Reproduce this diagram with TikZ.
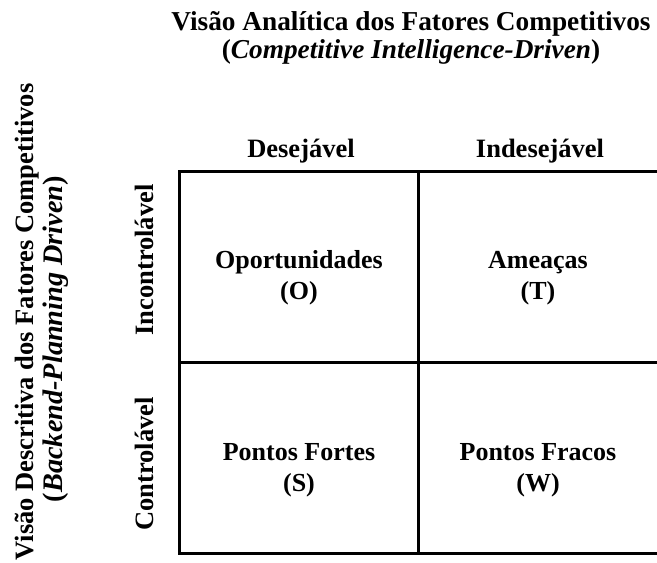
\documentclass[tikz,border=0pt]{standalone}
\usepackage{fontspec}
\setmainfont{Liberation Serif}
\begin{document}
\begin{tikzpicture}[x=1pt,y=-1pt,
  lbl/.style={inner sep=0pt,anchor=base,font=\fontsize{26.5}{30}\selectfont\bfseries},
  ttl/.style={inner sep=0pt,anchor=base,font=\fontsize{27.3}{30}\selectfont\bfseries},
  cell/.style={inner sep=0pt,align=center,font=\fontsize{26}{30.5}\selectfont\bfseries},
  gridline/.style={line width=3pt,line cap=rect}]
\useasboundingbox (0,0) rectangle (657,563);
% titles
\node[ttl] (t1) at (411,30) {Visão Analítica dos Fatores Competitivos};
\node[ttl] (t2) at (411,58) {(\textit{Competitive Intelligence-Driven})};
\node[lbl,rotate=90] (s1) at (33,322) {Visão Descritiva dos Fatores Competitivos};
\node[lbl,rotate=90,font=\fontsize{28.3}{30}\selectfont\bfseries] (s2) at (62,339) {(\textit{Backend-Planning Driven})};
% column / row headers
\node[lbl] (cdes) at (301,157) {Desejável};
\node[lbl] (cind) at (540,157) {Indesejável};
\node[lbl,rotate=90] (rinc) at (153,260) {Incontrolável};
\node[lbl,rotate=90] (rcon) at (153,464) {Controlável};
% grid
\coordinate (tl) at (179.5,171.5);
\coordinate (tm) at (418.5,171.5);
\coordinate (tr) at (665,171.5);
\coordinate (ml) at (179.5,362);
\coordinate (mr) at (665,362);
\coordinate (bl) at (179.5,553);
\coordinate (bm) at (418.5,553);
\coordinate (br) at (665,553);
\draw[gridline] (tr) -- (tl) -- (bl) -- (br);
\draw[gridline] (ml) -- (mr);
\draw[gridline] (tm) -- (bm);
% cells (base anchor = baseline of last line)
\node[cell,anchor=base] (o) at (299,299) {Oportunidades\\(O)};
\node[cell,anchor=base] (t) at (538,299) {Ameaças\\(T)};
\node[cell,anchor=base] (s) at (299,491) {Pontos Fortes\\(S)};
\node[cell,anchor=base] (w) at (538,491) {Pontos Fracos\\(W)};
\end{tikzpicture}
\end{document}
